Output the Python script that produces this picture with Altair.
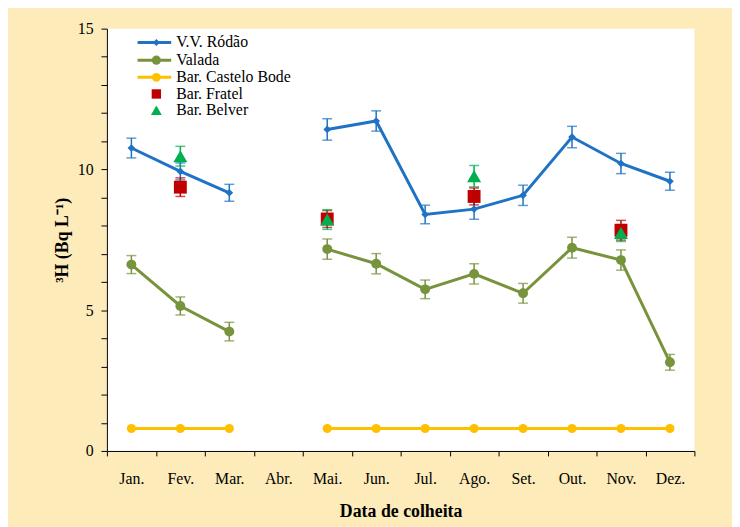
import altair as alt
import pandas as pd

months = ["Jan.", "Fev.", "Mar.", "Abr.", "Mai.", "Jun.", "Jul.", "Ago.", "Set.", "Out.", "Nov.", "Dez."]

rodao = [10.76, 9.93, 9.17, None, 11.42, 11.72, 8.40, 8.59, 9.08, 11.15, 10.21, 9.58]
rodao_err = [0.35, 0.30, 0.30, None, 0.38, 0.36, 0.33, 0.36, 0.36, 0.38, 0.36, 0.32]
valada = [6.62, 5.15, 4.24, None, 7.17, 6.65, 5.74, 6.29, 5.60, 7.22, 6.78, 3.15]
valada_err = [0.32, 0.32, 0.33, None, 0.36, 0.36, 0.33, 0.36, 0.35, 0.37, 0.36, 0.28]
castelo = [0.80, 0.80, 0.80, None, 0.80, 0.80, 0.80, 0.80, 0.80, 0.80, 0.80, 0.80]
castelo_err = [0.0, 0.0, 0.0, None, 0.0, 0.0, 0.0, 0.0, 0.0, 0.0, 0.0, 0.0]
fratel = [None, 9.37, None, None, 8.24, None, None, 9.04, None, None, 7.84, None]
fratel_err = [None, 0.33, None, None, 0.30, None, None, 0.30, None, None, 0.35, None]
belver = [None, 10.47, None, None, 8.22, None, None, 9.76, None, None, 7.74, None]
belver_err = [None, 0.35, None, None, 0.35, None, None, 0.38, None, None, 0.30, None]

series = ["V.V. Ródão", "Valada", "Bar. Castelo Bode", "Bar. Fratel", "Bar. Belver"]
colors = ["#1F72C4", "#77933C", "#FFC000", "#C00000", "#00B050"]
shapes = ["diamond", "circle", "circle", "square", "triangle-up"]
sizes = [60, 100, 85, 170, 200]
legend_sizes = [50, 85, 80, 90, 120]
legend_y = [14.51, 13.88, 13.27, 12.68, 12.10]

rows = []
for name, vals, errs in zip(series, [rodao, valada, castelo, fratel, belver],
                            [rodao_err, valada_err, castelo_err, fratel_err, belver_err]):
    for i, (m, v, e) in enumerate(zip(months, vals, errs)):
        if v is None:
            continue
        rows.append({"series": name, "month": m, "value": v,
                     "lo": v - e, "hi": v + e, "err": e, "seg": 0 if i < 3 else 1})
df = pd.DataFrame(rows)
leg = pd.DataFrame({"series": series, "value": legend_y})

TITLE = "³H (Bq L⁻¹)"
yscale = alt.Scale(domain=[0, 15], nice=False, zero=True)
yaxis = alt.Axis(values=list(range(16)), labelExpr="datum.value % 5 == 0 ? datum.label : ''",
                 grid=False, tickSize=6, labelPadding=8, titlePadding=6)
color = alt.Color("series:N", scale=alt.Scale(domain=series, range=colors), legend=None)
X = alt.X("month:N", sort=months, title="Data de colheita",
          scale=alt.Scale(domain=months, paddingInner=0, paddingOuter=0),
          axis=alt.Axis(labelAngle=0, tickBand="extent", tickSize=5, labelPadding=15,
                        titlePadding=16, grid=False))


def Y(field):
    return alt.Y(field, type="quantitative", scale=yscale, axis=yaxis, title=TITLE)


base = alt.Chart(df)
line_series = series[:3]

lines = base.transform_filter(alt.FieldOneOfPredicate(field="series", oneOf=line_series)).mark_line(
    strokeWidth=3).encode(x=X, y=Y("value"), color=color, detail="seg:N")

eb = base.transform_filter("datum.err > 0")
err_rule = eb.mark_rule(strokeWidth=1.5).encode(x=X, y=Y("lo"), y2="hi", color=color)
cap_lo = eb.mark_tick(thickness=1.5, size=10).encode(x=X, y=Y("lo"), color=color)
cap_hi = eb.mark_tick(thickness=1.5, size=10).encode(x=X, y=Y("hi"), color=color)

legbase = alt.Chart(leg)
layers = [lines, err_rule, cap_lo, cap_hi]
pt_layers = []
for name, col, shp, sz, lsz in zip(series, colors, shapes, sizes, legend_sizes):
    pt_layers.append(base.transform_filter(alt.FieldEqualPredicate(field="series", equal=name)).mark_point(
        filled=True, opacity=1, shape=shp, size=sz, color=col).encode(x=X, y=Y("value")))
    pt_layers.append(legbase.transform_filter(alt.FieldEqualPredicate(field="series", equal=name)).mark_point(
        filled=True, opacity=1, shape=shp, size=lsz, color=col).encode(x=alt.value(50), y=Y("value")))

leg_lines = legbase.transform_filter(alt.FieldOneOfPredicate(field="series", oneOf=line_series)).mark_rule(
    strokeWidth=3).encode(x=alt.value(31), x2=alt.value(65), y=Y("value"), color=color)
leg_text = legbase.mark_text(align="left", baseline="middle", font="Liberation Serif",
                             fontSize=16, color="#000000").encode(
    x=alt.value(70), y=Y("value"), text="series:N")

chart = alt.layer(*layers, leg_lines, *pt_layers, leg_text).properties(
    width=594, height=427,
    autosize=alt.AutoSizeParams(type="none"),
    padding={"left": 100, "top": 18, "right": 38, "bottom": 74},
    background="#FDEBBA",
).configure_view(fill="#FFFFFF", stroke=None).configure_axis(
    domainColor="#000000", tickColor="#000000", labelColor="#000000", titleColor="#000000",
    labelFont="Liberation Serif", titleFont="Liberation Serif", labelFontSize=16,
    titleFontSize=18, titleFontWeight="bold", domainWidth=1, tickWidth=1,
).configure_text(font="Liberation Serif")

chart.save("out.html", embed_options={"renderer": "svg", "actions": False})
